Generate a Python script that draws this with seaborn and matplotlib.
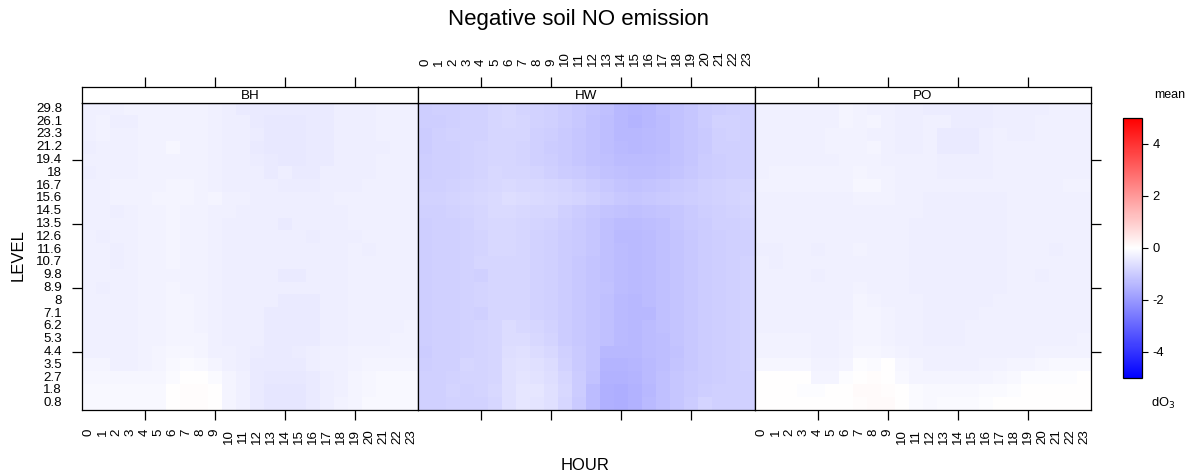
import numpy as np
import pandas as pd
import matplotlib
matplotlib.use("Agg")
import matplotlib.pyplot as plt
import seaborn as sns
from matplotlib.colors import LinearSegmentedColormap, Normalize
from matplotlib.cm import ScalarMappable

# ---- data -------------------------------------------------------------
hours = list(range(24))
levels = [0.8, 1.8, 2.7, 3.5, 4.4, 5.3, 6.2, 7.1, 8, 8.9, 9.8, 10.7,
          11.6, 12.6, 13.5, 14.5, 15.6, 16.7, 18, 19.4, 21.2, 23.3, 26.1, 29.8]
sites = ["BH", "HW", "PO"]
cbar_ticks = [-4, -2, 0, 2, 4]

# mean dO3 per panel, one row per level, rows listed from 29.8 (top) down to 0.8
bh = [
    [-0.28, -0.30, -0.30, -0.27, -0.27, -0.26, -0.25, -0.25, -0.27, -0.30, -0.32, -0.40, -0.42, -0.42, -0.42, -0.42, -0.42, -0.40, -0.35, -0.34, -0.32, -0.30, -0.29, -0.28],
    [-0.30, -0.26, -0.33, -0.33, -0.27, -0.26, -0.25, -0.25, -0.27, -0.30, -0.32, -0.35, -0.42, -0.43, -0.43, -0.43, -0.42, -0.40, -0.34, -0.34, -0.33, -0.30, -0.29, -0.28],
    [-0.30, -0.26, -0.28, -0.28, -0.27, -0.26, -0.25, -0.25, -0.27, -0.30, -0.32, -0.33, -0.38, -0.43, -0.43, -0.43, -0.42, -0.40, -0.34, -0.34, -0.32, -0.30, -0.29, -0.28],
    [-0.33, -0.30, -0.28, -0.28, -0.27, -0.26, -0.16, -0.25, -0.27, -0.30, -0.32, -0.35, -0.42, -0.43, -0.43, -0.43, -0.42, -0.40, -0.34, -0.34, -0.33, -0.35, -0.29, -0.28],
    [-0.28, -0.28, -0.28, -0.28, -0.27, -0.26, -0.26, -0.25, -0.27, -0.30, -0.32, -0.35, -0.38, -0.42, -0.43, -0.43, -0.42, -0.40, -0.34, -0.34, -0.33, -0.30, -0.29, -0.28],
    [-0.33, -0.30, -0.28, -0.28, -0.27, -0.26, -0.26, -0.25, -0.27, -0.30, -0.32, -0.33, -0.33, -0.40, -0.33, -0.42, -0.42, -0.35, -0.34, -0.33, -0.32, -0.30, -0.29, -0.28],
    [-0.28, -0.28, -0.27, -0.27, -0.26, -0.25, -0.20, -0.20, -0.27, -0.30, -0.32, -0.33, -0.35, -0.35, -0.38, -0.38, -0.38, -0.35, -0.32, -0.32, -0.30, -0.29, -0.28, -0.28],
    [-0.28, -0.28, -0.27, -0.27, -0.26, -0.21, -0.20, -0.20, -0.27, -0.22, -0.30, -0.31, -0.32, -0.32, -0.32, -0.32, -0.32, -0.32, -0.30, -0.30, -0.30, -0.29, -0.28, -0.28],
    [-0.28, -0.28, -0.32, -0.28, -0.26, -0.25, -0.20, -0.25, -0.27, -0.30, -0.30, -0.32, -0.35, -0.35, -0.35, -0.35, -0.35, -0.35, -0.35, -0.30, -0.30, -0.29, -0.28, -0.28],
    [-0.28, -0.28, -0.28, -0.28, -0.26, -0.25, -0.20, -0.25, -0.27, -0.30, -0.32, -0.35, -0.35, -0.35, -0.40, -0.35, -0.35, -0.35, -0.35, -0.30, -0.30, -0.29, -0.28, -0.28],
    [-0.28, -0.32, -0.28, -0.28, -0.26, -0.25, -0.20, -0.25, -0.27, -0.30, -0.32, -0.35, -0.35, -0.35, -0.35, -0.35, -0.38, -0.35, -0.35, -0.32, -0.30, -0.29, -0.28, -0.28],
    [-0.28, -0.28, -0.32, -0.28, -0.26, -0.25, -0.20, -0.25, -0.27, -0.30, -0.32, -0.35, -0.35, -0.35, -0.35, -0.35, -0.35, -0.35, -0.35, -0.30, -0.32, -0.29, -0.28, -0.28],
    [-0.28, -0.28, -0.32, -0.28, -0.26, -0.25, -0.23, -0.25, -0.27, -0.30, -0.32, -0.35, -0.35, -0.35, -0.35, -0.35, -0.35, -0.35, -0.32, -0.30, -0.30, -0.29, -0.28, -0.28],
    [-0.28, -0.28, -0.28, -0.28, -0.26, -0.25, -0.25, -0.25, -0.27, -0.30, -0.32, -0.33, -0.33, -0.33, -0.40, -0.40, -0.33, -0.33, -0.32, -0.30, -0.30, -0.29, -0.28, -0.28],
    [-0.28, -0.32, -0.28, -0.28, -0.26, -0.25, -0.22, -0.25, -0.27, -0.30, -0.32, -0.33, -0.33, -0.35, -0.35, -0.35, -0.33, -0.33, -0.32, -0.30, -0.28, -0.29, -0.28, -0.28],
    [-0.28, -0.28, -0.28, -0.28, -0.26, -0.25, -0.20, -0.23, -0.27, -0.30, -0.32, -0.33, -0.33, -0.35, -0.42, -0.42, -0.42, -0.33, -0.32, -0.30, -0.28, -0.29, -0.28, -0.28],
    [-0.28, -0.28, -0.28, -0.28, -0.26, -0.25, -0.20, -0.20, -0.25, -0.30, -0.32, -0.33, -0.33, -0.40, -0.42, -0.42, -0.42, -0.33, -0.32, -0.30, -0.28, -0.28, -0.28, -0.28],
    [-0.28, -0.28, -0.28, -0.28, -0.26, -0.25, -0.20, -0.20, -0.25, -0.30, -0.32, -0.33, -0.33, -0.40, -0.42, -0.42, -0.42, -0.33, -0.32, -0.30, -0.28, -0.28, -0.28, -0.25],
    [-0.28, -0.28, -0.28, -0.28, -0.26, -0.25, -0.20, -0.20, -0.22, -0.28, -0.32, -0.33, -0.33, -0.40, -0.42, -0.42, -0.42, -0.33, -0.32, -0.30, -0.28, -0.28, -0.25, -0.25],
    [-0.28, -0.28, -0.28, -0.28, -0.25, -0.22, -0.18, -0.18, -0.22, -0.28, -0.30, -0.33, -0.38, -0.40, -0.40, -0.38, -0.35, -0.30, -0.28, -0.26, -0.25, -0.25, -0.25, -0.25],
    [-0.22, -0.22, -0.30, -0.30, -0.24, -0.20, -0.14, -0.10, -0.15, -0.20, -0.30, -0.35, -0.40, -0.42, -0.40, -0.40, -0.35, -0.30, -0.28, -0.25, -0.22, -0.20, -0.20, -0.20],
    [-0.18, -0.18, -0.18, -0.18, -0.18, -0.18, -0.08, 0.00, 0.00, -0.08, -0.20, -0.30, -0.40, -0.45, -0.45, -0.45, -0.40, -0.35, -0.28, -0.22, -0.18, -0.15, -0.15, -0.15],
    [-0.15, -0.15, -0.15, -0.15, -0.15, -0.15, 0.00, 0.04, 0.04, 0.00, -0.20, -0.30, -0.42, -0.48, -0.50, -0.48, -0.42, -0.35, -0.28, -0.22, -0.18, -0.15, -0.15, -0.15],
    [-0.15, -0.15, -0.15, -0.15, -0.15, -0.15, 0.01, 0.04, 0.04, 0.01, -0.20, -0.30, -0.42, -0.48, -0.50, -0.48, -0.42, -0.35, -0.25, -0.22, -0.15, -0.15, -0.15, -0.15],
]

hw = [
    [-0.95, -0.93, -0.90, -0.88, -0.86, -0.80, -0.78, -0.85, -0.88, -0.92, -1.00, -1.08, -1.15, -1.25, -1.40, -1.42, -1.38, -1.28, -1.18, -1.10, -1.00, -0.95, -0.90, -0.90],
    [-0.95, -0.95, -0.92, -0.88, -0.86, -0.80, -0.78, -0.82, -0.88, -0.92, -1.00, -1.08, -1.18, -1.28, -1.38, -1.45, -1.38, -1.30, -1.20, -1.10, -1.00, -0.88, -0.88, -0.90],
    [-0.98, -0.90, -0.88, -0.88, -0.86, -0.80, -0.80, -0.82, -0.90, -0.95, -1.02, -1.10, -1.18, -1.28, -1.38, -1.40, -1.35, -1.30, -1.20, -1.10, -1.02, -0.90, -0.88, -0.90],
    [-0.98, -0.92, -0.90, -0.88, -0.85, -0.80, -0.80, -0.85, -0.92, -0.98, -1.05, -1.10, -1.20, -1.28, -1.35, -1.38, -1.35, -1.30, -1.20, -1.10, -1.02, -0.92, -0.90, -0.92],
    [-0.95, -0.92, -0.90, -0.88, -0.85, -0.80, -0.80, -0.85, -0.90, -0.95, -1.02, -1.10, -1.18, -1.25, -1.30, -1.32, -1.30, -1.28, -1.18, -1.10, -1.00, -0.95, -0.92, -0.92],
    [-0.95, -0.92, -0.90, -0.88, -0.85, -0.78, -0.80, -0.82, -0.85, -0.90, -0.98, -1.05, -1.12, -1.20, -1.25, -1.28, -1.28, -1.22, -1.15, -1.08, -1.00, -0.95, -0.92, -0.90],
    [-0.92, -0.90, -0.88, -0.85, -0.82, -0.75, -0.72, -0.75, -0.78, -0.82, -0.85, -0.92, -1.00, -1.08, -1.15, -1.18, -1.15, -1.10, -1.05, -0.98, -0.92, -0.88, -0.85, -0.85],
    [-0.88, -0.88, -0.85, -0.82, -0.78, -0.72, -0.66, -0.70, -0.72, -0.78, -0.80, -0.85, -0.92, -1.00, -1.08, -1.10, -1.08, -1.05, -1.00, -0.95, -0.90, -0.88, -0.85, -0.82],
    [-0.92, -0.90, -0.88, -0.85, -0.80, -0.72, -0.72, -0.75, -0.80, -0.82, -0.90, -0.98, -1.08, -1.15, -1.20, -1.22, -1.20, -1.15, -1.10, -1.02, -0.95, -0.90, -0.88, -0.85],
    [-0.95, -0.92, -0.90, -0.88, -0.82, -0.78, -0.78, -0.80, -0.85, -0.88, -0.95, -1.02, -1.12, -1.22, -1.32, -1.32, -1.28, -1.22, -1.12, -1.05, -0.98, -0.92, -0.90, -0.88],
    [-0.95, -0.92, -0.90, -0.88, -0.85, -0.78, -0.78, -0.82, -0.86, -0.90, -0.98, -1.05, -1.12, -1.22, -1.35, -1.35, -1.30, -1.25, -1.15, -1.08, -1.00, -0.95, -0.92, -0.90],
    [-0.95, -0.92, -0.90, -0.88, -0.85, -0.78, -0.78, -0.82, -0.86, -0.90, -0.98, -1.05, -1.12, -1.22, -1.32, -1.35, -1.30, -1.25, -1.15, -1.08, -1.00, -0.95, -0.92, -0.90],
    [-0.95, -0.92, -0.90, -0.88, -0.82, -0.80, -0.80, -0.82, -0.86, -0.90, -0.98, -1.08, -1.15, -1.25, -1.32, -1.35, -1.32, -1.25, -1.15, -1.08, -1.00, -0.95, -0.92, -0.88],
    [-0.95, -0.92, -0.90, -0.88, -0.90, -0.80, -0.80, -0.82, -0.86, -0.90, -0.98, -1.08, -1.15, -1.22, -1.32, -1.35, -1.32, -1.25, -1.15, -1.08, -1.00, -0.95, -0.92, -0.88],
    [-0.95, -0.92, -0.90, -0.88, -0.85, -0.80, -0.80, -0.82, -0.86, -0.90, -0.98, -1.08, -1.15, -1.18, -1.32, -1.35, -1.32, -1.25, -1.15, -1.08, -1.00, -0.95, -0.92, -0.88],
    [-0.95, -0.92, -0.90, -0.88, -0.85, -0.80, -0.80, -0.82, -0.86, -0.90, -0.98, -1.08, -1.15, -1.25, -1.35, -1.38, -1.32, -1.25, -1.15, -1.08, -1.00, -0.95, -0.92, -0.88],
    [-0.95, -0.92, -0.90, -0.88, -0.90, -0.80, -0.80, -0.82, -0.86, -0.90, -0.98, -1.08, -1.15, -1.25, -1.35, -1.40, -1.38, -1.25, -1.15, -1.08, -1.00, -0.95, -0.92, -0.88],
    [-0.95, -0.92, -0.90, -0.88, -0.85, -0.80, -0.68, -0.75, -0.80, -0.88, -0.98, -1.08, -1.15, -1.25, -1.35, -1.38, -1.32, -1.25, -1.15, -1.08, -1.00, -0.95, -0.92, -0.88],
    [-0.95, -0.92, -0.90, -0.88, -0.85, -0.80, -0.68, -0.70, -0.75, -0.85, -0.98, -1.08, -1.15, -1.25, -1.35, -1.38, -1.32, -1.28, -1.15, -1.08, -1.00, -0.95, -0.92, -0.88],
    [-1.00, -0.92, -0.90, -0.88, -0.85, -0.80, -0.65, -0.62, -0.68, -0.75, -0.92, -1.05, -1.15, -1.40, -1.40, -1.38, -1.32, -1.28, -1.18, -1.08, -1.00, -0.95, -0.92, -0.88],
    [-0.95, -0.92, -0.90, -0.82, -0.85, -0.80, -0.62, -0.58, -0.62, -0.70, -0.88, -1.02, -1.15, -1.45, -1.45, -1.42, -1.35, -1.28, -1.15, -1.08, -1.00, -0.95, -0.92, -0.88],
    [-0.92, -0.90, -0.88, -0.85, -0.85, -0.80, -0.62, -0.52, -0.55, -0.65, -0.80, -1.00, -1.18, -1.50, -1.52, -1.48, -1.35, -1.25, -1.12, -1.05, -1.00, -0.95, -0.92, -0.90],
    [-0.90, -0.90, -0.85, -0.88, -0.85, -0.78, -0.60, -0.48, -0.50, -0.60, -0.78, -1.00, -1.30, -1.55, -1.58, -1.50, -1.38, -1.22, -1.10, -1.02, -0.95, -0.92, -0.92, -0.92],
    [-0.90, -0.90, -0.88, -0.88, -0.88, -0.80, -0.62, -0.50, -0.52, -0.62, -0.80, -1.02, -1.30, -1.55, -1.60, -1.52, -1.35, -1.22, -1.10, -1.00, -0.85, -0.92, -0.92, -0.92],
]

po = [
    [-0.28, -0.28, -0.28, -0.28, -0.28, -0.28, -0.22, -0.26, -0.30, -0.30, -0.32, -0.32, -0.38, -0.38, -0.38, -0.38, -0.38, -0.32, -0.32, -0.32, -0.32, -0.30, -0.28, -0.28],
    [-0.28, -0.28, -0.28, -0.28, -0.28, -0.28, -0.22, -0.26, -0.22, -0.30, -0.32, -0.32, -0.30, -0.30, -0.38, -0.38, -0.38, -0.32, -0.32, -0.32, -0.28, -0.28, -0.28, -0.28],
    [-0.28, -0.28, -0.28, -0.28, -0.28, -0.24, -0.24, -0.26, -0.28, -0.30, -0.32, -0.32, -0.30, -0.40, -0.40, -0.40, -0.32, -0.30, -0.32, -0.32, -0.28, -0.28, -0.28, -0.28],
    [-0.28, -0.28, -0.28, -0.28, -0.28, -0.24, -0.24, -0.26, -0.22, -0.30, -0.32, -0.32, -0.30, -0.40, -0.40, -0.40, -0.32, -0.30, -0.30, -0.30, -0.28, -0.28, -0.28, -0.28],
    [-0.28, -0.28, -0.28, -0.28, -0.28, -0.28, -0.25, -0.26, -0.26, -0.28, -0.30, -0.30, -0.30, -0.32, -0.32, -0.32, -0.32, -0.30, -0.30, -0.28, -0.30, -0.28, -0.28, -0.28],
    [-0.30, -0.26, -0.26, -0.26, -0.26, -0.26, -0.26, -0.20, -0.26, -0.26, -0.30, -0.30, -0.30, -0.32, -0.32, -0.32, -0.32, -0.30, -0.30, -0.28, -0.28, -0.28, -0.28, -0.30],
    [-0.26, -0.26, -0.26, -0.26, -0.26, -0.26, -0.26, -0.17, -0.17, -0.26, -0.28, -0.28, -0.28, -0.28, -0.28, -0.28, -0.28, -0.28, -0.28, -0.28, -0.28, -0.28, -0.24, -0.26],
    [-0.30, -0.28, -0.28, -0.28, -0.28, -0.28, -0.28, -0.26, -0.26, -0.26, -0.28, -0.28, -0.32, -0.32, -0.32, -0.32, -0.32, -0.32, -0.28, -0.28, -0.28, -0.28, -0.28, -0.30],
    [-0.30, -0.30, -0.30, -0.30, -0.30, -0.28, -0.28, -0.28, -0.28, -0.28, -0.28, -0.30, -0.32, -0.32, -0.32, -0.32, -0.32, -0.32, -0.30, -0.30, -0.30, -0.30, -0.30, -0.30],
    [-0.30, -0.30, -0.30, -0.30, -0.30, -0.30, -0.28, -0.28, -0.28, -0.28, -0.30, -0.32, -0.32, -0.32, -0.32, -0.32, -0.32, -0.32, -0.30, -0.30, -0.30, -0.30, -0.30, -0.30],
    [-0.28, -0.28, -0.30, -0.30, -0.30, -0.28, -0.28, -0.28, -0.28, -0.30, -0.30, -0.32, -0.32, -0.32, -0.32, -0.32, -0.32, -0.32, -0.30, -0.30, -0.30, -0.30, -0.30, -0.30],
    [-0.32, -0.32, -0.30, -0.30, -0.32, -0.28, -0.28, -0.26, -0.28, -0.30, -0.30, -0.32, -0.32, -0.32, -0.32, -0.32, -0.32, -0.32, -0.30, -0.30, -0.30, -0.32, -0.30, -0.30],
    [-0.30, -0.32, -0.30, -0.30, -0.30, -0.28, -0.28, -0.28, -0.28, -0.30, -0.30, -0.32, -0.32, -0.32, -0.32, -0.32, -0.32, -0.32, -0.30, -0.30, -0.30, -0.30, -0.30, -0.28],
    [-0.30, -0.30, -0.30, -0.30, -0.32, -0.28, -0.28, -0.28, -0.28, -0.30, -0.30, -0.32, -0.32, -0.32, -0.32, -0.32, -0.32, -0.32, -0.30, -0.30, -0.32, -0.30, -0.30, -0.28],
    [-0.30, -0.30, -0.30, -0.28, -0.28, -0.28, -0.28, -0.24, -0.28, -0.30, -0.30, -0.32, -0.32, -0.32, -0.32, -0.32, -0.32, -0.32, -0.30, -0.30, -0.30, -0.30, -0.30, -0.28],
    [-0.30, -0.30, -0.28, -0.28, -0.28, -0.28, -0.28, -0.22, -0.26, -0.28, -0.30, -0.30, -0.32, -0.32, -0.32, -0.32, -0.32, -0.30, -0.30, -0.30, -0.30, -0.28, -0.28, -0.28],
    [-0.30, -0.30, -0.28, -0.28, -0.28, -0.28, -0.28, -0.22, -0.22, -0.26, -0.28, -0.30, -0.32, -0.32, -0.32, -0.32, -0.30, -0.30, -0.30, -0.28, -0.28, -0.28, -0.28, -0.28],
    [-0.30, -0.28, -0.28, -0.28, -0.28, -0.28, -0.26, -0.20, -0.22, -0.26, -0.28, -0.30, -0.32, -0.32, -0.32, -0.30, -0.28, -0.28, -0.28, -0.28, -0.28, -0.28, -0.28, -0.28],
    [-0.25, -0.25, -0.25, -0.25, -0.28, -0.28, -0.25, -0.20, -0.20, -0.24, -0.28, -0.30, -0.32, -0.32, -0.32, -0.30, -0.30, -0.30, -0.30, -0.28, -0.28, -0.28, -0.28, -0.25],
    [-0.25, -0.25, -0.25, -0.25, -0.28, -0.28, -0.25, -0.18, -0.18, -0.22, -0.26, -0.30, -0.30, -0.30, -0.30, -0.30, -0.30, -0.30, -0.30, -0.28, -0.26, -0.26, -0.26, -0.25],
    [-0.18, -0.18, -0.18, -0.18, -0.25, -0.25, -0.22, -0.05, -0.08, 0.00, -0.18, -0.22, -0.28, -0.28, -0.28, -0.28, -0.26, -0.25, -0.22, -0.20, -0.18, -0.15, -0.15, -0.15],
    [0.00, 0.00, 0.00, 0.00, -0.20, -0.20, -0.05, 0.02, 0.04, 0.00, -0.12, -0.20, -0.22, -0.22, -0.20, -0.20, -0.20, -0.18, -0.15, -0.05, -0.05, -0.05, -0.05, 0.00],
    [0.02, 0.02, 0.02, -0.05, -0.05, 0.02, 0.02, 0.08, 0.10, 0.05, 0.00, -0.10, -0.15, -0.12, -0.12, -0.12, -0.10, -0.10, -0.05, 0.00, 0.00, 0.00, 0.00, 0.01],
    [0.03, 0.03, 0.03, 0.00, 0.00, 0.00, 0.00, 0.05, 0.10, 0.08, 0.00, -0.08, -0.12, -0.10, -0.10, -0.10, -0.05, 0.00, 0.00, 0.03, 0.03, 0.03, 0.03, 0.03],
]

# ---- style ------------------------------------------------------------
sns.set_style("white")
plt.rcParams["font.family"] = ["Liberation Sans", "DejaVu Sans"]
plt.rcParams["axes.unicode_minus"] = False
plt.rcParams["text.color"] = "black"
plt.rcParams["xtick.color"] = "black"
plt.rcParams["ytick.color"] = "black"
plt.rcParams["axes.labelcolor"] = "black"

cmap = LinearSegmentedColormap.from_list("bwr_lattice", ["blue", "white", "red"])

W, H = 1199, 475
fig = plt.figure(figsize=(W / 100, H / 100), dpi=100)


def box(x0, y0, x1, y1):
    return [x0 / W, 1 - y1 / H, (x1 - x0) / W, (y1 - y0) / H]


edges = [81.5, 418, 754.5, 1091]
marks = [4.5, 9.5, 14.5, 19.5]
centers = np.arange(24) + 0.5
level_labels = [f"{v:g}" for v in levels[::-1]]
fs = 9.6

for i, (site, data) in enumerate(zip(sites, [bh, hw, po])):
    ax = fig.add_axes(box(edges[i], 102.5, edges[i + 1], 409.5))
    df = pd.DataFrame(data, index=levels[::-1], columns=hours)
    sns.heatmap(df, ax=ax, cmap=cmap, vmin=-5, vmax=5, cbar=False)
    for s in ax.spines.values():
        s.set_visible(True)
        s.set_color("black")
        s.set_linewidth(0.9)
    ax.set_xlabel("")
    ax.set_ylabel("")
    ax.xaxis.remove_overlapping_locs = False
    ax.yaxis.remove_overlapping_locs = False

    # bottom axis: labels on BH and PO, tick marks on all
    ax.set_xticks(centers)
    ax.set_xticklabels([str(h) for h in hours] if i != 1 else [""] * 24, rotation=90)
    ax.set_xticks(marks, minor=True)
    ax.tick_params(axis="x", which="major", length=0, pad=14, labelsize=fs,
                   bottom=True, top=False, labelbottom=True, labeltop=False)
    ax.tick_params(axis="x", which="minor", length=7, width=0.9, direction="out",
                   bottom=True, top=False)

    # y axis: labels only on the left of BH, marks left of BH and right of PO
    ax.set_yticks(centers)
    ax.set_yticklabels(level_labels if i == 0 else [""] * 24, rotation=0)
    ax.set_yticks(marks, minor=True)
    ax.tick_params(axis="y", which="major", length=0, pad=14, labelsize=fs,
                   left=i == 0, right=False, labelleft=i == 0)
    ax.tick_params(axis="y", which="minor", length=7, width=0.9, direction="out",
                   left=i == 0, right=i == 2)

    # strip with panel name; the top axis sits above it
    st = fig.add_axes(box(edges[i], 87, edges[i + 1], 102.5))
    st.set_xlim(0, 24)
    st.set_ylim(0, 1)
    st.set_facecolor("white")
    for s in st.spines.values():
        s.set_visible(True)
        s.set_color("black")
        s.set_linewidth(0.9)
    st.text(12, 0.45, site, ha="center", va="center", fontsize=fs)
    st.xaxis.remove_overlapping_locs = False
    st.set_yticks([])
    st.set_xticks(centers)
    st.set_xticklabels([str(h) for h in hours] if i == 1 else [""] * 24, rotation=90)
    st.set_xticks(marks, minor=True)
    st.tick_params(axis="x", which="major", length=0, pad=15, labelsize=fs,
                   top=True, bottom=False, labeltop=True, labelbottom=False)
    st.tick_params(axis="x", which="minor", length=7, width=0.9, direction="out",
                   top=True, bottom=False)

# colour key
cax = fig.add_axes(box(1123, 118, 1142, 378))
sm = ScalarMappable(norm=Normalize(vmin=-5, vmax=5), cmap=cmap)
cb = fig.colorbar(sm, cax=cax, ticks=cbar_ticks)
cb.outline.set_edgecolor("black")
cb.outline.set_linewidth(0.9)
cax.tick_params(length=4, width=0.8, labelsize=9.3, right=True, direction="out")
fig.text(1170 / W, 1 - 95 / H, "mean", ha="center", va="center", fontsize=9)
fig.text(1163 / W, 1 - 403 / H, "dO$_3$", ha="center", va="center", fontsize=9.3)

# titles
fig.text(578 / W, 1 - 20 / H, "Negative soil NO emission", ha="center", va="center", fontsize=16)
fig.text(585 / W, 1 - 465 / H, "HOUR", ha="center", va="center", fontsize=12)
fig.text(18 / W, 1 - 255 / H, "LEVEL", ha="center", va="center", rotation=90, fontsize=12)

fig.savefig("out.png", dpi=100)
